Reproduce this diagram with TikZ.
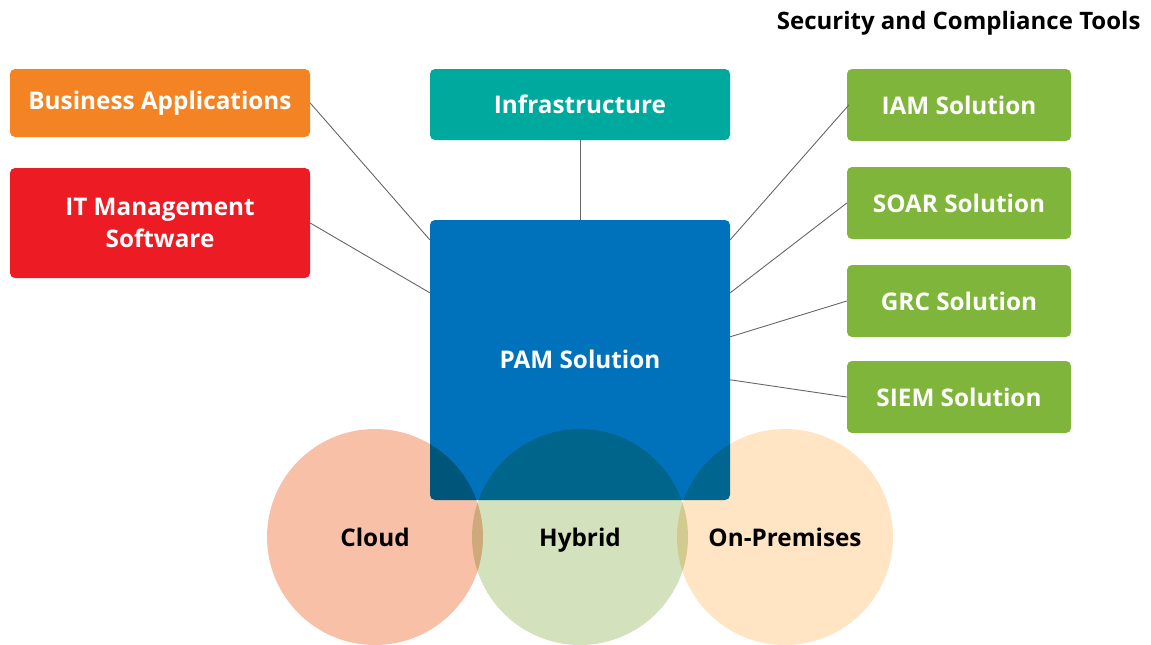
\documentclass[tikz,border=0pt]{standalone}
\usepackage{fontspec}
\setmainfont{Open Sans}
\usetikzlibrary{calc}
\definecolor{baorange}{HTML}{F48423}
\definecolor{itred}{HTML}{ED1C24}
\definecolor{infteal}{HTML}{00A99D}
\definecolor{pamblue}{HTML}{0072BC}
\definecolor{toolgreen}{HTML}{80B53C}
\definecolor{cloudc}{HTML}{F9C0A8}
\definecolor{hybridc}{HTML}{D3E2BC}
\definecolor{premc}{HTML}{FFE5C3}
\definecolor{linkgray}{HTML}{666666}
\tikzset{
  box/.style={rounded corners=5pt, text=white, font=\bfseries\fontsize{24.3}{31.5}\selectfont,
    align=center, inner sep=0pt},
  side/.style={box, minimum width=300pt, minimum height=68pt},
  tool/.style={box, fill=toolgreen, minimum width=224pt, minimum height=72pt},
  link/.style={draw=linkgray, line width=0.9pt},
  zone/.style={circle, minimum size=216pt, inner sep=0pt, blend mode=multiply},
  zonelabel/.style={font=\bfseries\fontsize{24.3}{30}\selectfont, text=black, anchor=base}
}
\begin{document}
\begin{tikzpicture}[x=1pt, y=-1pt]
\useasboundingbox (0,0) rectangle (1151,645);

% heading of the right column
\node[font=\bfseries\fontsize{24}{29}\selectfont, anchor=base east] (title) at (1144,29) {Security and Compliance Tools};

% left column
\node[side, fill=baorange] (ba) at (160,103) {Business Applications};
\node[side, fill=itred, minimum height=110pt] (itm) at (160,223) {IT Management\\Software};

% top box and central solution
\node[side, fill=infteal, minimum height=71pt] (inf) at (580,104.5) {Infrastructure};
\node[box, fill=pamblue, minimum width=300pt, minimum height=280pt] (pam) at (580,360) {};

% right column
\node[tool] (iam) at (959,105) {IAM Solution};
\node[tool] (soar) at (959,203) {SOAR Solution};
\node[tool] (grc) at (959,301) {GRC Solution};
\node[tool] (siem) at (959,397) {SIEM Solution};

% connectors
\draw[link] (ba.east) -- ($(pam.north west)+(0,20)$);
\draw[link] (itm.east) -- ($(pam.north west)+(0,73)$);
\draw[link] (inf.south) -- (pam.north);
\draw[link] ($(iam.west)+(2,0)$) -- ($(pam.north east)+(0,20)$);
\draw[link] (soar.west) -- ($(pam.north east)+(0,73)$);
\draw[link] (grc.west) -- ($(pam.north east)+(0,117)$);
\draw[link] (siem.west) -- ($(pam.north east)+(0,160)$);

% deployment models, multiplied over the solution box
\node[zone, fill=cloudc] (cloud) at (375,537) {};
\node[zone, fill=hybridc] (hybrid) at (580,537) {};
\node[zone, fill=premc] (prem) at (785,537) {};

\node[text=white, font=\bfseries\fontsize{24.3}{30}\selectfont] (pamlabel) at (580,359) {PAM Solution};
\node[zonelabel] (cloudlabel) at ($(cloud)+(0,9)$) {Cloud};
\node[zonelabel] (hybridlabel) at ($(hybrid)+(0,9)$) {Hybrid};
\node[zonelabel] (premlabel) at ($(prem)+(0,9)$) {On-Premises};
\end{tikzpicture}
\end{document}
